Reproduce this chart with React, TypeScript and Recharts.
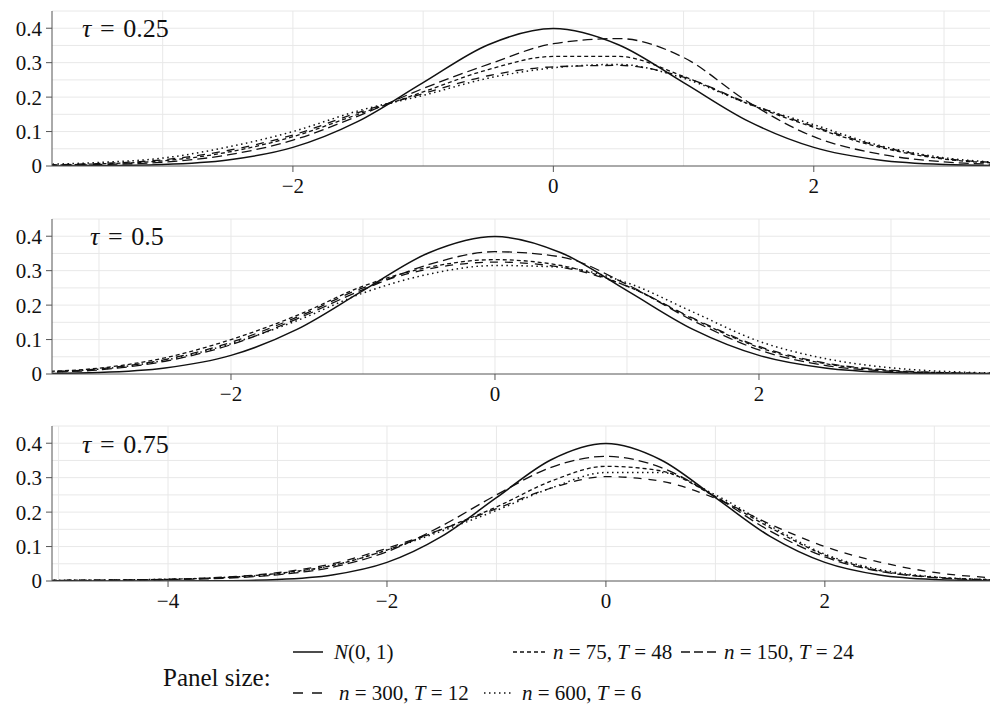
import React from 'react';
import { LineChart, Line, XAxis, YAxis, CartesianGrid } from 'recharts';

// grids of x for the density curves
const XS_A = [-4, -3.5, -3, -2.5, -2, -1.5, -1, -0.5, 0, 0.5, 1, 1.5, 2, 2.5, 3, 3.5, 4];
const XS_C = [-5.5, -5, -4.5, -4, -3.5, -3, -2.5, -2, -1.5, -1, -0.5, 0, 0.5, 1, 1.5, 2, 2.5, 3, 3.5, 4];

const NORMAL_A = [0.0001, 0.0009, 0.0044, 0.0175, 0.054, 0.1295, 0.242, 0.352, 0.399, 0.352, 0.242, 0.1295, 0.054, 0.0175, 0.0044, 0.0009, 0.0001];
const NORMAL_C = [0, 0, 0, 0.0001, 0.0009, 0.0044, 0.0175, 0.054, 0.1295, 0.242, 0.352, 0.399, 0.352, 0.242, 0.1295, 0.054, 0.0175, 0.0044, 0.0009, 0.0001];

// tau = 0.25
const T25_N75 = [0.002, 0.006, 0.015, 0.04, 0.085, 0.15, 0.215, 0.28, 0.318, 0.318, 0.26, 0.18, 0.112, 0.055, 0.02, 0.007, 0.002];
const T25_N150 = [0.001, 0.004, 0.011, 0.032, 0.075, 0.145, 0.225, 0.295, 0.355, 0.37, 0.315, 0.185, 0.085, 0.035, 0.012, 0.004, 0.001];
const T25_N300 = [0.003, 0.007, 0.018, 0.045, 0.09, 0.155, 0.21, 0.262, 0.288, 0.292, 0.258, 0.182, 0.115, 0.058, 0.022, 0.008, 0.002];
const T25_N600 = [0.004, 0.01, 0.023, 0.055, 0.1, 0.16, 0.205, 0.255, 0.285, 0.295, 0.255, 0.18, 0.12, 0.06, 0.024, 0.009, 0.003];

// tau = 0.5
const T50_N75 = [0.002, 0.006, 0.017, 0.047, 0.1, 0.17, 0.255, 0.31, 0.332, 0.315, 0.255, 0.16, 0.077, 0.03, 0.01, 0.003, 0.001];
const T50_N150 = [0.001, 0.004, 0.012, 0.037, 0.085, 0.16, 0.245, 0.318, 0.355, 0.34, 0.26, 0.155, 0.07, 0.025, 0.008, 0.002, 0.001];
const T50_N300 = [0.002, 0.005, 0.015, 0.042, 0.092, 0.165, 0.25, 0.305, 0.325, 0.31, 0.255, 0.162, 0.08, 0.032, 0.011, 0.003, 0.001];
const T50_N600 = [0.002, 0.005, 0.014, 0.04, 0.088, 0.155, 0.235, 0.29, 0.315, 0.31, 0.265, 0.18, 0.095, 0.045, 0.018, 0.006, 0.002];

// tau = 0.75
const T75_N75 = [0.001, 0.002, 0.003, 0.005, 0.01, 0.022, 0.045, 0.09, 0.15, 0.215, 0.29, 0.333, 0.32, 0.245, 0.155, 0.075, 0.03, 0.011, 0.004, 0.001];
const T75_N150 = [0.001, 0.001, 0.002, 0.004, 0.008, 0.018, 0.04, 0.085, 0.16, 0.25, 0.33, 0.362, 0.33, 0.245, 0.145, 0.07, 0.028, 0.01, 0.003, 0.001];
const T75_N300 = [0.001, 0.002, 0.003, 0.005, 0.011, 0.024, 0.05, 0.095, 0.15, 0.21, 0.27, 0.303, 0.29, 0.24, 0.165, 0.1, 0.055, 0.025, 0.01, 0.004];
const T75_N600 = [0.002, 0.002, 0.003, 0.005, 0.01, 0.02, 0.045, 0.09, 0.145, 0.205, 0.27, 0.315, 0.315, 0.25, 0.16, 0.078, 0.033, 0.012, 0.004, 0.001];

const Y_TICKS = [0, 0.1, 0.2, 0.3, 0.4];
const Y_GRID = [0.05, 0.1, 0.15, 0.2, 0.25, 0.3, 0.35, 0.4, 0.45];
const X_TICKS_AB = [-2, 0, 2];
const X_TICKS_C = [-4, -2, 0, 2];
const X_GRID_AB = [-3, -2, -1, 0, 1, 2, 3];
const X_GRID_C = [-5, -4, -3, -2, -1, 0, 1, 2, 3];

const FONT = '"Liberation Serif", "DejaVu Serif", serif';
const INK = '#111';
const AXIS = '#555';

const SERIES = [
  { key: 'normal', dash: undefined, width: 1.5 },
  { key: 'n75', dash: '4 3', width: 1.3 },
  { key: 'n150', dash: '10 5', width: 1.3 },
  { key: 'n300', dash: '8 7', width: 1.3 },
  { key: 'n600', dash: '1.5 3.5', width: 1.5 },
];

function rows(xs: number[], normal: number[], n75: number[], n150: number[], n300: number[], n600: number[]) {
  return xs.map((x, i) => ({ x, normal: normal[i], n75: n75[i], n150: n150[i], n300: n300[i], n600: n600[i] }));
}

const PANELS = [
  { tau: '0.25', top: 1, domain: [-3.85, 3.43], ticks: X_TICKS_AB, grid: X_GRID_AB,
    data: rows(XS_A, NORMAL_A, T25_N75, T25_N150, T25_N300, T25_N600), labelX: 82, labelY: 37 },
  { tau: '0.5', top: 209, domain: [-3.356, 3.826], ticks: X_TICKS_AB, grid: X_GRID_AB,
    data: rows(XS_A, NORMAL_A, T50_N75, T50_N150, T50_N300, T50_N600), labelX: 90, labelY: 245 },
  { tau: '0.75', top: 416, domain: [-5.06, 3.6], ticks: X_TICKS_C, grid: X_GRID_C,
    data: rows(XS_C, NORMAL_C, T75_N75, T75_N150, T75_N300, T75_N600), labelX: 82, labelY: 453 },
];

const fmtX = (v: number) => (v < 0 ? `\u2212${-v}` : `${v}`);
const fmtY = (v: number) => (v === 0 ? '0' : v.toFixed(1));

const tickStyle = { fill: INK, fontSize: 21, fontFamily: FONT, style: { fontFamily: FONT } };

function Panel({ p }: { p: any }) {
  return (
    <div style={{ position: 'absolute', left: 0, top: p.top }}>
      <LineChart width={1010} height={200} data={p.data} margin={{ top: 10, right: 10, left: 0, bottom: 5 }}
        style={{ fontFamily: FONT }}>
        <CartesianGrid horizontalValues={Y_GRID} verticalValues={p.grid} stroke="#e8e8e8" strokeWidth={1} />
        <XAxis
          type="number" dataKey="x" domain={p.domain} ticks={p.ticks} interval={0}
          allowDataOverflow tickFormatter={fmtX} height={30} tickSize={6} tickMargin={6}
          stroke={AXIS} tick={tickStyle}
        />
        <XAxis
          xAxisId="top" orientation="top" type="number" dataKey="x" domain={p.domain}
          allowDataOverflow height={0} tick={false} tickLine={false} stroke={AXIS}
        />
        <YAxis
          type="number" domain={[0, 0.45]} ticks={Y_TICKS} interval={0} allowDataOverflow
          tickFormatter={fmtY} width={52} tickSize={6} tickMargin={4} stroke={AXIS} tick={tickStyle}
        />
        {SERIES.map((s) => (
          <Line
            key={s.key} type="monotone" dataKey={s.key} stroke={INK} strokeWidth={s.width}
            strokeDasharray={s.dash} dot={false} activeDot={false} isAnimationActive={false}
          />
        ))}
      </LineChart>
    </div>
  );
}

const I = ({ children }: { children: React.ReactNode }) => <tspan fontStyle="italic">{children}</tspan>;
const EQ = '\u2004=\u2004';

export default function App() {
  return (
    <div style={{ position: 'absolute', left: 0, top: 0, width: 990, height: 709, overflow: 'hidden', background: '#fff', fontFamily: FONT }}>
      {PANELS.map((p) => <Panel key={p.tau} p={p} />)}
      <svg width={990} height={709} style={{ position: 'absolute', left: 0, top: 0, pointerEvents: 'none', fontFamily: FONT }}
        fill={INK}>
        {PANELS.map((p) => (
          <text key={p.tau} x={p.labelX} y={p.labelY} fontSize={26}>
            <I>τ</I>{EQ}{p.tau}
          </text>
        ))}

        <text x={163} y={686} fontSize={25}>Panel size:</text>

        <g fontSize={21}>
          <line x1={293} x2={323} y1={652} y2={652} stroke={INK} strokeWidth={1.5} />
          <text x={334} y={659}><I>N</I>(0, 1)</text>

          <line x1={513} x2={546} y1={652} y2={652} stroke={INK} strokeWidth={1.3} strokeDasharray="4 3" />
          <text x={553} y={659}><I>n</I> = 75, <I>T</I> = 48</text>

          <line x1={681} x2={716} y1={652} y2={652} stroke={INK} strokeWidth={1.3} strokeDasharray="9 4" />
          <text x={724} y={659}><I>n</I> = 150, <I>T</I> = 24</text>

          <line x1={293} x2={322} y1={693} y2={693} stroke={INK} strokeWidth={1.3} strokeDasharray="10 9" />
          <text x={339} y={700}><I>n</I> = 300, <I>T</I> = 12</text>

          <line x1={484} x2={512} y1={693} y2={693} stroke={INK} strokeWidth={1.5} strokeDasharray="1.5 3.5" />
          <text x={522} y={700}><I>n</I> = 600, <I>T</I> = 6</text>
        </g>
      </svg>
    </div>
  );
}
